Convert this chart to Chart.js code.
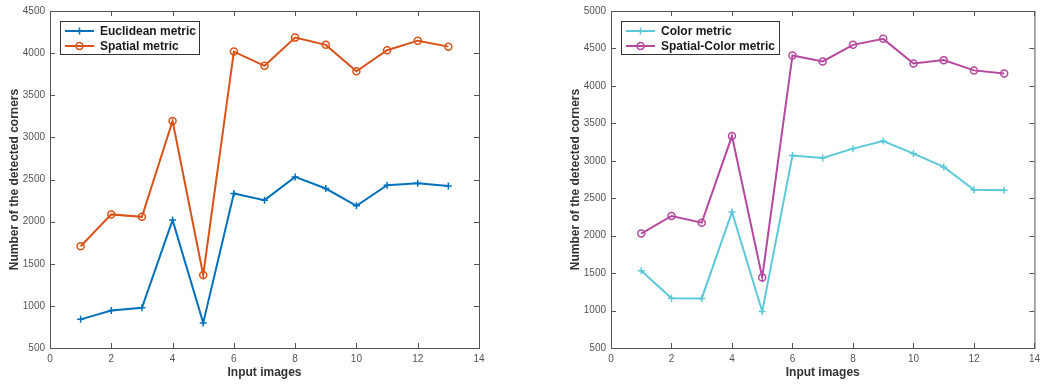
<!DOCTYPE html>
<html>
<head>
<meta charset="utf-8">
<script src="https://cdn.jsdelivr.net/npm/chart.js@4/dist/chart.umd.min.js"></script>
<style>
  html, body { margin: 0; padding: 0; background: #fff; }
  #wrap { position: relative; width: 1045px; height: 385px; }
  .box { position: absolute; top: 0; height: 385px; }
  #leftBox { left: 0; width: 522px; }
  #rightBox { left: 522px; width: 523px; }
</style>
</head>
<body>
<div id="wrap">
  <div class="box" id="leftBox"><canvas id="leftChart"></canvas></div>
  <div class="box" id="rightBox"><canvas id="rightChart"></canvas></div>
</div>
<script>
// data
const images = [1, 2, 3, 4, 5, 6, 7, 8, 9, 10, 11, 12, 13];
const euclidean = [840, 945, 977, 2018, 798, 2334, 2255, 2531, 2393, 2188, 2433, 2456, 2424];
const spatial = [1707, 2086, 2057, 3194, 1367, 4018, 3849, 4184, 4098, 3785, 4034, 4148, 4077];
const colorMetric = [1532, 1164, 1162, 2316, 988, 3069, 3038, 3162, 3263, 3096, 2918, 2612, 2608];
const spatialColor = [2028, 2263, 2174, 3330, 1443, 4406, 4326, 4548, 4628, 4300, 4344, 4207, 4167];

const axisColor = '#555555';
const tickFont = { family: 'Liberation Sans, Arial, sans-serif', size: 10 };
const titleFont = { family: 'Liberation Sans, Arial, sans-serif', size: 12, weight: 'bold' };

function points(values) {
    return values.map((v, i) => ({ x: images[i], y: v }));
}

// box around the plot with inward ticks on all four sides, matlab style
const boxPlugin = {
    id: 'boxPlugin',
    afterDraw(chart) {
        const ctx = chart.ctx;
        const a = chart.chartArea;
        const xs = chart.scales.x;
        const ys = chart.scales.y;
        ctx.save();
        ctx.strokeStyle = axisColor;
        ctx.lineWidth = 1;
        ctx.strokeRect(a.left + 0.5, a.top + 0.5, a.right - a.left, a.bottom - a.top);
        ctx.beginPath();
        xs.ticks.forEach(t => {
            const px = Math.round(xs.getPixelForValue(t.value)) + 0.5;
            ctx.moveTo(px, a.bottom); ctx.lineTo(px, a.bottom - 5);
            ctx.moveTo(px, a.top); ctx.lineTo(px, a.top + 5);
        });
        ys.ticks.forEach(t => {
            const py = Math.round(ys.getPixelForValue(t.value)) + 0.5;
            ctx.moveTo(a.left, py); ctx.lineTo(a.left + 5, py);
            ctx.moveTo(a.right, py); ctx.lineTo(a.right - 5, py);
        });
        ctx.stroke();

        // legend in the upper left corner
        const lg = chart.options.plugins.boxLegend;
        const x0 = a.left + lg.dx;
        const y0 = a.top + 10;
        ctx.fillStyle = '#fff';
        ctx.fillRect(x0, y0, lg.width, 33);
        ctx.strokeStyle = '#333';
        ctx.strokeRect(x0 + 0.5, y0 + 0.5, lg.width, 33);
        ctx.font = 'bold 12px Liberation Sans, Arial, sans-serif';
        ctx.textBaseline = 'middle';
        chart.data.datasets.forEach((ds, i) => {
            const cy = y0 + 10 + i * 15;
            ctx.strokeStyle = ds.borderColor;
            ctx.lineWidth = 2;
            ctx.beginPath();
            ctx.moveTo(x0 + 5, cy); ctx.lineTo(x0 + 34, cy);
            ctx.stroke();
            ctx.lineWidth = 1.5;
            ctx.beginPath();
            if (ds.pointStyle === 'circle') {
                ctx.arc(x0 + 19.5, cy, 3.5, 0, Math.PI * 2);
            } else {
                ctx.moveTo(x0 + 16, cy); ctx.lineTo(x0 + 23, cy);
                ctx.moveTo(x0 + 19.5, cy - 3.5); ctx.lineTo(x0 + 19.5, cy + 3.5);
            }
            ctx.stroke();
            ctx.fillStyle = '#1a1a1a';
            ctx.fillText(ds.label, x0 + 40, cy + 0.5);
        });
        ctx.restore();
    }
};

function lineSet(label, values, color, style) {
    return {
        label: label,
        data: points(values),
        borderColor: color,
        backgroundColor: 'rgba(255,255,255,0)',
        borderWidth: 2,
        pointStyle: style,
        pointRadius: style === 'circle' ? 3.5 : 3.5,
        pointBorderWidth: 1.5,
        pointBorderColor: color,
        tension: 0
    };
}

function makeChart(id, datasets, yMax, axisWidth, pad, legendWidth) {
    const ctx = document.getElementById(id).getContext('2d');
    return new Chart(ctx, {
        type: 'line',
        data: { datasets: datasets },
        options: {
            responsive: true,
            maintainAspectRatio: false,
            animation: false,
            layout: { padding: pad },
            plugins: {
                legend: { display: false },
                tooltip: { enabled: false },
                boxLegend: { dx: 10, width: legendWidth }
            },
            scales: {
                x: {
                    type: 'linear',
                    min: 0,
                    max: 14,
                    grid: { drawOnChartArea: false, drawTicks: false },
                    border: { display: false },
                    ticks: { stepSize: 2, color: axisColor, font: tickFont, padding: 5, maxRotation: 0 },
                    title: { display: true, text: 'Input images', color: '#333', font: titleFont, padding: { top: 0, bottom: 5 } },
                    afterFit(scale) { scale.height = 37; }
                },
                y: {
                    min: 500,
                    max: yMax,
                    grid: { drawOnChartArea: false, drawTicks: false },
                    border: { display: false },
                    ticks: {
                        stepSize: 500,
                        color: axisColor,
                        font: tickFont,
                        padding: 5,
                        callback: function(value) { return String(value); }
                    },
                    title: { display: true, text: 'Number of the detected corners', color: '#333', font: titleFont, padding: { top: 7, bottom: 0 } },
                    afterFit(scale) { scale.width = axisWidth; }
                }
            }
        },
        plugins: [boxPlugin]
    });
}

makeChart('leftChart', [
    lineSet('Euclidean metric', euclidean, '#0072BD', 'cross'),
    lineSet('Spatial metric', spatial, '#D95319', 'circle')
], 4500, 50, { left: 0, right: 43, top: 10, bottom: 0 }, 139);

makeChart('rightChart', [
    lineSet('Color metric', colorMetric, '#5CC9D9', 'cross'),
    lineSet('Spatial-Color metric', spatialColor, '#B5489F', 'circle')
], 5000, 50, { left: 39, right: 6, top: 10, bottom: 0 }, 158);
</script>
</body>
</html>
